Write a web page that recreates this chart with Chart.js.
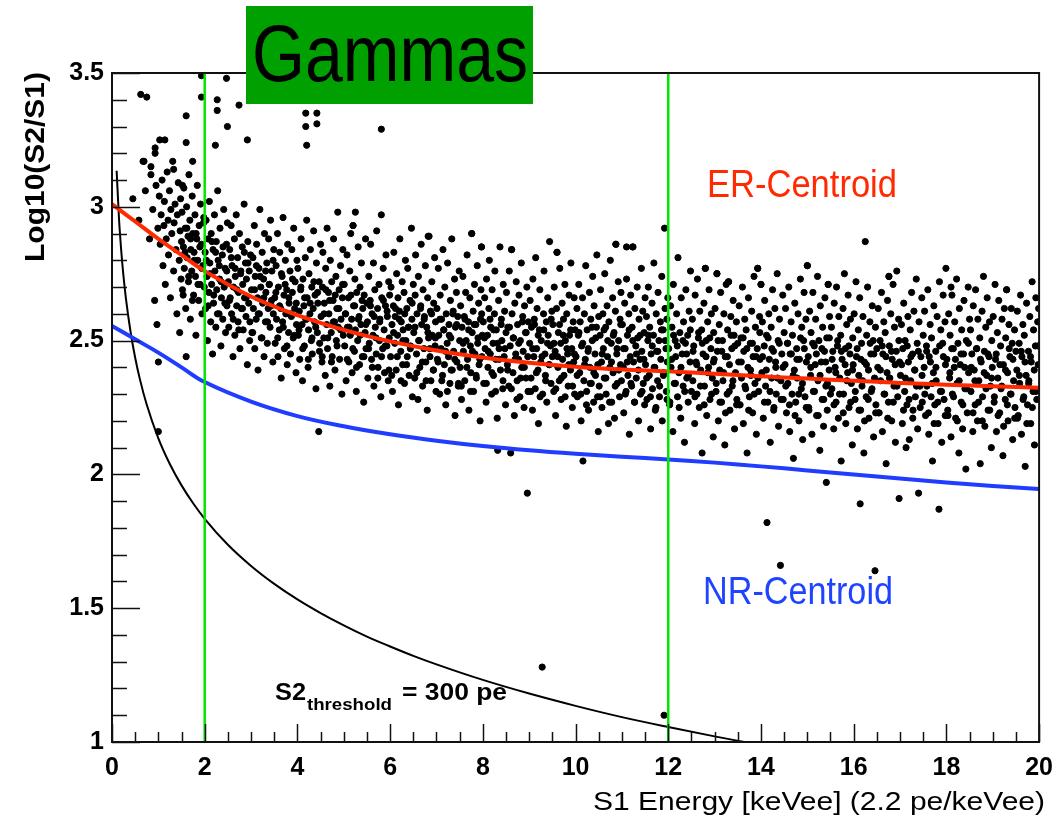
<!DOCTYPE html>
<html>
<head>
<meta charset="utf-8">
<title>Gammas - Log10(S2/S1) vs S1 Energy</title>
<script src="https://cdn.jsdelivr.net/npm/chart.js@4.4.1/dist/chart.umd.min.js"></script>
<style>
  body { margin: 0; background: #fff; }
  #wrap { width: 1064px; height: 825px; position: relative; }
</style>
</head>
<body>
<div id="wrap"><canvas id="gammasChart"></canvas></div>
<script>
// Ejes
const xTickValues = [0, 2, 4, 6, 8, 10, 12, 14, 16, 18, 20];
const yTickValues = [1, 1.5, 2, 2.5, 3, 3.5];

// Centroides (ER rojo, NR azul)
const curveX = [0, 0.5, 1, 1.5, 2, 3, 4, 5, 6, 7, 8, 9, 10, 11, 12, 13, 14, 15, 16, 17, 18, 19, 20];
const erY = [3.01, 2.945, 2.88, 2.82, 2.76, 2.665, 2.595, 2.54, 2.497, 2.463, 2.437, 2.417, 2.402, 2.392, 2.385, 2.376, 2.367, 2.358, 2.35, 2.342, 2.335, 2.329, 2.324];
const nrY = [2.555, 2.505, 2.455, 2.40, 2.345, 2.272, 2.218, 2.18, 2.15, 2.126, 2.106, 2.09, 2.077, 2.066, 2.056, 2.044, 2.03, 2.015, 2.0, 1.985, 1.97, 1.957, 1.945];

// Umbral S2 = 300 pe
const thrX = [0.1, 0.15, 0.2, 0.25, 0.3, 0.4, 0.5, 0.6, 0.75, 1, 1.25, 1.5, 1.75, 2, 2.5, 3, 3.5, 4, 4.5, 5, 5.5, 6, 6.5, 7, 8, 9, 10, 11, 12, 13, 13.64];
const thrY = [3.135, 2.959, 2.834, 2.737, 2.658, 2.533, 2.436, 2.357, 2.260, 2.135, 2.038, 1.959, 1.892, 1.834, 1.737, 1.658, 1.591, 1.533, 1.482, 1.436, 1.394, 1.357, 1.322, 1.290, 1.232, 1.181, 1.135, 1.093, 1.056, 1.021, 1.0];

// Cortes de energia (lineas verdes)
const cutX = [2, 12];

// Eventos gamma [x, y]
const gammaEvents = [
  [0.45,3.03],[0.58,2.95],[0.67,3.17],[0.72,3.06],[0.81,2.88],[0.84,3.12],[0.88,2.99],[0.92,2.65],[0.95,3.08],[0.97,2.56],[0.99,2.92],[1.0,2.42],
  [1.02,3.04],[1.04,2.86],[1.06,2.97],[1.08,3.1],[1.1,2.78],[1.12,2.93],[1.13,3.02],[1.15,2.71],[1.17,2.88],[1.19,3.13],[1.21,2.95],[1.22,2.82],[1.24,3.06],[1.26,2.66],[1.27,2.99],[1.29,2.9],[1.31,3.17],[1.33,2.76],[1.34,2.94],[1.36,3.01],[1.38,2.84],[1.4,2.6],[1.41,2.97],[1.43,3.09],[1.45,2.8],[1.46,2.53],[1.47,2.91],[1.48,3.03],[1.49,2.73],[1.5,2.87],
  [1.51,2.98],[1.52,2.69],[1.54,2.85],[1.55,3.07],[1.56,2.77],[1.58,2.92],[1.59,2.62],[1.6,2.44],[1.61,3.0],[1.62,2.81],[1.64,2.89],[1.65,2.72],[1.66,3.12],[1.68,2.95],[1.69,2.58],[1.7,2.84],[1.72,2.76],[1.73,3.04],[1.74,2.9],[1.76,2.67],[1.77,2.83],[1.79,2.97],[1.8,2.74],[1.81,2.52],[1.83,2.88],[1.84,3.08],[1.85,2.8],[1.87,2.65],[1.88,2.93],[1.9,2.71],[1.91,3.01],[1.93,2.86],[1.94,2.6],[1.96,2.78],[1.98,2.96],[1.99,2.7],
  [2.01,2.83],[2.02,2.62],[2.03,2.95],[2.05,2.74],[2.06,2.5],[2.07,2.88],[2.09,2.68],[2.1,3.02],[2.11,2.79],[2.13,2.57],[2.14,2.9],[2.15,2.71],[2.17,2.45],[2.18,2.84],[2.19,2.64],[2.21,2.97],[2.22,2.76],[2.24,2.55],[2.25,2.87],[2.26,2.69],[2.28,3.06],[2.29,2.8],[2.31,2.6],[2.32,2.73],[2.33,2.92],[2.35,2.48],[2.36,2.66],[2.38,2.82],[2.39,2.58],[2.41,2.99],[2.42,2.7],[2.44,2.77],[2.45,2.53],[2.47,2.86],[2.48,2.63],[2.49,2.94],
  [2.51,2.72],[2.52,2.55],[2.54,2.84],[2.55,2.66],[2.57,2.93],[2.58,2.6],[2.59,2.78],[2.61,2.44],[2.62,2.7],[2.64,2.88],[2.65,2.52],[2.66,2.74],[2.68,2.97],[2.69,2.63],[2.71,2.81],[2.72,2.57],[2.73,2.68],[2.75,2.9],[2.76,2.47],[2.78,2.76],[2.79,2.62],[2.81,2.85],[2.82,2.71],[2.83,2.54],[2.85,3.01],[2.86,2.66],[2.88,2.79],[2.89,2.59],[2.9,2.73],[2.92,2.41],[2.93,2.87],[2.95,2.64],[2.96,2.76],[2.97,2.5],[2.99,2.82],
  [3.01,2.69],[3.02,2.53],[3.04,2.81],[3.05,2.62],[3.07,2.93],[3.08,2.47],[3.09,2.74],[3.11,2.58],[3.12,2.86],[3.14,2.66],[3.15,2.39],[3.17,2.77],[3.18,2.6],[3.19,2.99],[3.21,2.7],[3.22,2.51],[3.24,2.83],[3.25,2.64],[3.27,2.73],[3.28,2.44],[3.29,2.9],[3.31,2.57],[3.32,2.68],[3.34,2.79],[3.35,2.49],[3.37,2.62],[3.38,2.88],[3.39,2.71],[3.41,2.55],[3.42,2.95],[3.44,2.65],[3.45,2.76],[3.47,2.42],[3.48,2.6],[3.49,2.84],
  [3.51,2.66],[3.52,2.49],[3.54,2.78],[3.55,2.58],[3.57,2.9],[3.58,2.44],[3.59,2.7],[3.61,2.54],[3.62,2.83],[3.64,2.62],[3.65,2.36],[3.67,2.74],[3.68,2.57],[3.69,2.96],[3.71,2.67],[3.72,2.47],[3.74,2.8],[3.75,2.6],[3.77,2.69],[3.78,2.41],[3.79,2.86],[3.81,2.53],[3.82,2.64],[3.84,2.76],[3.85,2.45],[3.87,2.59],[3.88,2.84],[3.89,2.68],[3.91,2.51],[3.92,2.92],[3.94,2.62],[3.95,2.72],[3.97,2.38],[3.98,2.56],[3.99,2.8],
  [4.01,2.77],[4.02,2.52],[4.04,2.61],[4.05,2.43],[4.07,2.69],[4.08,2.88],[4.1,2.56],[4.11,2.35],[4.12,2.73],[4.14,2.63],[4.15,2.48],[4.17,2.81],[4.18,2.58],[4.2,2.95],[4.21,2.66],[4.23,2.4],[4.24,2.54],[4.25,2.75],[4.27,2.6],[4.28,2.84],[4.3,2.5],[4.31,2.7],[4.32,2.45],[4.34,2.62],[4.35,2.91],[4.37,2.57],[4.38,2.67],[4.4,2.32],[4.41,2.79],[4.43,2.53],[4.44,2.64],[4.46,2.16],[4.47,2.72],[4.48,2.49],[4.5,2.86],
  [4.51,2.59],[4.53,2.42],[4.54,2.7],[4.55,2.83],[4.57,2.51],[4.58,2.64],[4.6,2.37],[4.61,2.77],[4.63,2.56],[4.64,2.92],[4.65,2.47],[4.67,2.68],[4.68,2.6],[4.7,2.33],[4.71,2.8],[4.73,2.53],[4.74,2.72],[4.75,2.44],[4.77,2.65],[4.78,2.88],[4.8,2.57],[4.81,2.39],[4.83,2.74],[4.84,2.5],[4.85,2.62],[4.87,2.98],[4.88,2.55],[4.9,2.69],[4.91,2.43],[4.93,2.78],[4.94,2.58],[4.96,2.3],[4.97,2.66],[4.98,2.84],[4.99,2.52],
  [5.01,2.71],[5.02,2.48],[5.04,2.6],[5.05,2.35],[5.07,2.82],[5.08,2.55],[5.1,2.66],[5.11,2.42],[5.13,2.76],[5.14,2.52],[5.15,2.9],[5.17,2.58],[5.18,2.38],[5.2,2.93],[5.21,2.63],[5.23,2.46],[5.24,2.73],[5.25,2.54],[5.27,2.31],[5.28,2.68],[5.3,2.5],[5.31,2.85],[5.33,2.59],[5.34,2.41],[5.35,2.7],[5.37,2.56],[5.38,2.79],[5.4,2.44],[5.41,2.62],[5.43,2.27],[5.44,2.67],[5.46,2.53],[5.47,2.88],[5.48,2.47],[5.5,2.64],
  [5.51,2.57],[5.52,2.36],[5.54,2.74],[5.55,2.49],[5.57,2.65],[5.58,2.86],[5.6,2.43],[5.61,2.6],[5.63,2.52],[5.64,2.79],[5.65,2.33],[5.67,2.69],[5.68,2.55],[5.7,2.45],[5.71,2.91],[5.73,2.62],[5.74,2.4],[5.76,2.71],[5.77,2.5],[5.78,2.58],[5.8,2.29],[5.81,2.97],[5.82,2.66],[5.84,2.47],[5.85,2.77],[5.87,2.54],[5.88,2.38],[5.9,2.63],[5.91,2.82],[5.93,2.48],[5.94,2.59],[5.96,2.35],[5.97,2.72],[5.98,2.51],[5.99,2.67],
  [6.01,2.44],[6.02,2.7],[6.04,2.56],[6.05,2.31],[6.07,2.63],[6.08,2.83],[6.1,2.49],[6.11,2.59],[6.13,2.39],[6.14,2.75],[6.16,2.52],[6.17,2.66],[6.18,2.26],[6.2,2.61],[6.21,2.88],[6.23,2.46],[6.24,2.57],[6.26,2.72],[6.27,2.41],[6.28,2.54],[6.3,2.68],[6.31,2.34],[6.33,2.8],[6.34,2.5],[6.36,2.62],[6.37,2.44],[6.38,2.77],[6.4,2.55],[6.41,2.37],[6.43,2.65],[6.44,2.48],[6.46,2.92],[6.47,2.58],[6.48,2.29],[6.5,2.71],
  [6.51,2.53],[6.53,2.36],[6.54,2.67],[6.55,2.82],[6.57,2.45],[6.58,2.6],[6.6,2.28],[6.61,2.74],[6.63,2.5],[6.64,2.4],[6.66,2.63],[6.67,2.86],[6.68,2.56],[6.7,2.33],[6.71,2.69],[6.73,2.47],[6.74,2.59],[6.76,2.78],[6.77,2.42],[6.79,2.55],[6.8,2.24],[6.81,2.66],[6.83,2.51],[6.84,2.89],[6.86,2.44],[6.87,2.61],[6.88,2.35],[6.9,2.72],[6.91,2.52],[6.93,2.39],[6.94,2.64],[6.96,2.81],[6.97,2.48],[6.98,2.57],[6.99,2.31],
  [7.01,2.62],[7.02,2.43],[7.04,2.77],[7.05,2.52],[7.07,2.3],[7.08,2.67],[7.1,2.47],[7.11,2.58],[7.13,2.37],[7.14,2.84],[7.16,2.54],[7.17,2.41],[7.18,2.7],[7.2,2.26],[7.21,2.6],[7.23,2.49],[7.24,2.79],[7.26,2.44],[7.27,2.56],[7.29,2.34],[7.3,2.65],[7.31,2.51],[7.33,2.88],[7.34,2.39],[7.36,2.61],[7.37,2.46],[7.39,2.73],[7.4,2.22],[7.41,2.55],[7.43,2.68],[7.44,2.42],[7.46,2.59],[7.47,2.33],[7.49,2.76],[7.5,2.5],
  [7.51,2.4],[7.52,2.63],[7.54,2.28],[7.55,2.55],[7.57,2.74],[7.58,2.46],[7.6,2.59],[7.61,2.35],[7.63,2.68],[7.64,2.5],[7.66,2.82],[7.67,2.43],[7.69,2.57],[7.7,2.24],[7.72,2.66],[7.73,2.48],[7.74,2.38],[7.76,2.9],[7.77,2.53],[7.79,2.61],[7.8,2.31],[7.82,2.71],[7.83,2.45],[7.85,2.56],[7.86,2.36],[7.88,2.78],[7.89,2.49],[7.91,2.64],[7.92,2.41],[7.94,2.2],[7.95,2.58],[7.96,2.69],[7.97,2.85],[7.98,2.44],[7.99,2.52],
  [8.01,2.57],[8.02,2.34],[8.04,2.66],[8.05,2.47],[8.07,2.27],[8.08,2.73],[8.1,2.52],[8.11,2.4],[8.13,2.62],[8.14,2.8],[8.16,2.45],[8.17,2.55],[8.19,2.3],[8.2,2.69],[8.22,2.49],[8.23,2.37],[8.25,2.6],[8.26,2.76],[8.28,2.43],[8.29,2.54],[8.31,2.21],[8.32,2.09],[8.34,2.65],[8.35,2.47],[8.37,2.85],[8.38,2.39],[8.4,2.58],[8.41,2.5],[8.43,2.32],[8.44,2.71],[8.46,2.44],[8.47,2.61],[8.49,2.26],[8.5,2.53],
  [8.51,2.68],[8.53,2.41],[8.54,2.55],[8.56,2.33],[8.57,2.76],[8.59,2.48],[8.6,2.08],[8.62,2.84],[8.63,2.6],[8.65,2.38],[8.66,2.51],[8.68,2.22],[8.69,2.64],[8.71,2.45],[8.72,2.72],[8.74,2.35],[8.75,2.56],[8.77,2.43],[8.78,2.67],[8.8,2.29],[8.81,2.5],[8.83,2.79],[8.84,2.4],[8.86,2.59],[8.87,2.46],[8.89,2.25],[8.9,2.63],[8.92,2.53],[8.93,2.36],[8.95,2.7],[8.96,1.93],[8.97,2.44],[8.98,2.57],[8.99,2.31],
  [9.01,2.49],[9.02,2.65],[9.04,2.36],[9.05,2.55],[9.07,2.24],[9.08,2.73],[9.1,2.44],[9.11,2.58],[9.13,2.32],[9.14,2.81],[9.16,2.47],[9.17,2.62],[9.19,2.39],[9.2,2.19],[9.22,2.54],[9.23,2.69],[9.25,2.42],[9.26,2.5],[9.28,1.28],[9.29,2.3],[9.31,2.6],[9.32,2.76],[9.34,2.45],[9.35,2.37],[9.37,2.57],[9.38,2.27],[9.4,2.66],[9.41,2.52],[9.43,2.41],[9.44,2.87],[9.46,2.48],[9.47,2.34],[9.49,2.61],[9.5,2.44],
  [9.51,2.56],[9.53,2.31],[9.54,2.7],[9.56,2.46],[9.57,2.22],[9.59,2.62],[9.6,2.83],[9.62,2.4],[9.63,2.53],[9.65,2.35],[9.66,2.77],[9.68,2.49],[9.69,2.28],[9.71,2.64],[9.72,2.43],[9.74,2.58],[9.75,2.37],[9.77,2.71],[9.78,2.5],[9.8,2.18],[9.81,2.6],[9.83,2.45],[9.84,2.33],[9.86,2.67],[9.87,2.52],[9.89,2.39],[9.9,2.79],[9.92,2.47],[9.93,2.25],[9.95,2.57],[9.96,2.42],[9.97,2.66],[9.98,2.3],[9.99,2.54],
  [10.01,2.44],[10.03,2.62],[10.04,2.29],[10.06,2.52],[10.07,2.71],[10.09,2.38],[10.1,2.57],[10.12,2.2],[10.13,2.48],[10.15,2.66],[10.16,2.05],[10.18,2.35],[10.19,2.6],[10.21,2.43],[10.22,2.78],[10.24,2.31],[10.25,2.54],[10.27,2.46],[10.28,2.24],[10.3,2.68],[10.31,2.4],[10.33,2.58],[10.34,2.34],[10.36,2.5],[10.37,2.74],[10.39,2.27],[10.4,2.63],[10.42,2.45],[10.43,2.37],[10.45,2.55],[10.46,2.82],[10.48,2.41],[10.49,2.16],[10.5,2.59],
  [10.51,2.33],[10.53,2.52],[10.54,2.69],[10.56,2.42],[10.57,2.25],[10.59,2.6],[10.6,2.47],[10.62,2.36],[10.63,2.75],[10.65,2.55],[10.66,2.3],[10.68,2.63],[10.69,2.44],[10.71,2.19],[10.72,2.57],[10.74,2.4],[10.75,2.8],[10.77,2.49],[10.78,2.27],[10.8,2.66],[10.81,2.38],[10.83,2.53],[10.84,2.21],[10.86,2.61],[10.87,2.86],[10.89,2.45],[10.9,2.34],[10.92,2.72],[10.93,2.5],[10.95,2.29],[10.96,2.58],[10.97,2.41],[10.98,2.68],[10.99,2.35],
  [11.01,2.56],[11.03,2.4],[11.04,2.23],[11.06,2.64],[11.07,2.47],[11.09,2.31],[11.1,2.73],[11.12,2.52],[11.13,2.37],[11.15,2.6],[11.16,2.15],[11.18,2.44],[11.19,2.67],[11.21,2.33],[11.22,2.55],[11.24,2.85],[11.25,2.42],[11.27,2.27],[11.28,2.62],[11.3,2.48],[11.31,2.36],[11.33,2.7],[11.34,2.51],[11.36,2.2],[11.37,2.58],[11.39,2.43],[11.4,2.3],[11.42,2.77],[11.43,2.46],[11.45,2.61],[11.46,2.34],[11.48,2.53],[11.49,2.26],[11.5,2.66],
  [11.51,2.41],[11.53,2.59],[11.54,2.28],[11.56,2.5],[11.57,2.7],[11.59,2.37],[11.6,2.55],[11.62,2.17],[11.63,2.45],[11.65,2.64],[11.66,2.32],[11.68,2.52],[11.69,2.79],[11.71,2.4],[11.72,2.24],[11.74,2.6],[11.75,2.46],[11.77,2.35],[11.78,2.68],[11.8,2.5],[11.81,2.29],[11.83,2.57],[11.84,2.43],[11.86,2.74],[11.87,2.2],[11.89,2.54],[11.9,2.38],[11.91,1.1],[11.92,2.92],[11.93,2.62],[11.95,2.47],[11.96,2.31],[11.97,2.58],[11.98,2.42],[11.99,2.66],
  [12.01,2.47],[12.03,2.26],[12.05,2.63],[12.06,2.4],[12.08,2.55],[12.1,2.16],[12.11,2.71],[12.13,2.34],[12.15,2.5],[12.16,2.44],[12.18,2.6],[12.2,2.29],[12.21,2.81],[12.23,2.38],[12.25,2.53],[12.27,2.21],[12.28,2.66],[12.3,2.45],[12.32,2.33],[12.33,2.57],[12.35,2.12],[12.37,2.49],[12.38,2.69],[12.4,2.36],[12.42,2.52],[12.43,2.27],[12.45,2.61],[12.47,2.42],[12.48,2.76],[12.5,2.31],
  [12.52,2.58],[12.53,2.35],[12.55,2.48],[12.57,2.19],[12.58,2.67],[12.6,2.42],[12.62,2.3],[12.63,2.73],[12.65,2.51],[12.67,2.25],[12.68,2.61],[12.7,2.39],[12.72,2.54],[12.73,2.08],[12.75,2.45],[12.77,2.64],[12.78,2.33],[12.8,2.77],[12.82,2.5],[12.83,2.22],[12.85,2.57],[12.87,2.4],[12.88,2.69],[12.9,2.28],[12.92,2.47],[12.93,2.6],[12.95,2.36],[12.97,2.14],[12.98,2.53],[12.99,2.43],
  [13.01,2.62],[13.03,2.31],[13.05,2.75],[13.06,2.46],[13.08,2.2],[13.1,2.56],[13.11,2.39],[13.13,2.68],[13.15,2.27],[13.17,2.5],[13.18,2.35],[13.2,2.6],[13.22,2.11],[13.23,2.44],[13.25,2.71],[13.27,2.3],[13.28,2.54],[13.3,2.72],[13.32,2.41],[13.33,2.24],[13.35,2.59],[13.37,2.47],[13.38,2.33],[13.4,2.65],[13.42,2.52],[13.43,2.17],[13.45,2.38],[13.47,2.57],[13.48,2.28],[13.5,2.49],
  [13.52,2.42],[13.53,2.63],[13.55,2.26],[13.57,2.51],[13.58,2.36],[13.6,2.7],[13.62,2.19],[13.63,2.46],[13.65,2.58],[13.67,2.32],[13.68,2.54],[13.7,2.08],[13.72,2.4],[13.73,2.66],[13.75,2.29],[13.77,2.49],[13.78,2.37],[13.8,2.61],[13.82,2.23],[13.83,2.44],[13.85,2.74],[13.87,2.34],[13.88,2.55],[13.9,2.15],[13.92,2.47],[13.93,2.77],[13.95,2.31],[13.97,2.59],[13.98,2.43],[14.0,2.71],
  [14.02,2.38],[14.03,2.57],[14.05,2.21],[14.07,2.48],[14.08,2.65],[14.1,2.33],[14.12,2.52],[14.13,1.82],[14.15,2.27],[14.17,2.6],[14.18,2.43],[14.2,2.12],[14.22,2.55],[14.23,2.36],[14.25,2.69],[14.27,2.46],[14.28,2.25],[14.3,2.62],[14.32,2.4],[14.33,2.3],[14.35,2.75],[14.37,2.5],[14.38,2.18],[14.4,2.58],[14.42,1.66],[14.43,2.35],[14.45,2.45],[14.47,2.67],[14.48,2.28],[14.5,2.53],
  [14.52,2.41],[14.53,2.62],[14.55,2.23],[14.57,2.49],[14.58,2.34],[14.6,2.7],[14.62,2.16],[14.63,2.45],[14.65,2.57],[14.67,2.3],[14.68,2.52],[14.7,2.06],[14.72,2.39],[14.73,2.64],[14.75,2.27],[14.77,2.47],[14.78,2.36],[14.8,2.6],[14.82,2.2],[14.83,2.43],[14.85,2.73],[14.87,2.32],[14.88,2.55],[14.9,2.13],[14.92,2.5],[14.93,2.68],[14.95,2.29],[14.97,2.58],[14.98,2.42],[15.0,2.78],
  [15.02,2.44],[15.03,2.25],[15.05,2.61],[15.07,2.37],[15.08,2.53],[15.1,2.15],[15.12,2.68],[15.13,2.31],[15.15,2.48],[15.17,2.41],[15.18,2.58],[15.2,2.22],[15.22,2.74],[15.23,2.35],[15.25,2.5],[15.27,2.09],[15.28,2.63],[15.3,2.42],[15.32,2.28],[15.33,2.55],[15.35,2.18],[15.37,2.46],[15.38,2.66],[15.4,2.33],[15.41,1.97],[15.42,2.51],[15.43,2.24],[15.45,2.71],[15.47,2.39],[15.48,2.59],[15.5,2.3],
  [15.52,2.55],[15.53,2.32],[15.55,2.46],[15.57,2.17],[15.58,2.64],[15.6,2.4],[15.62,2.27],[15.63,2.7],[15.65,2.48],[15.67,2.21],[15.68,2.59],[15.7,2.36],[15.72,2.52],[15.73,2.05],[15.75,2.43],[15.77,2.62],[15.78,2.3],[15.8,2.75],[15.82,2.47],[15.83,2.19],[15.85,2.56],[15.87,2.38],[15.88,2.67],[15.9,2.25],[15.92,2.45],[15.93,2.58],[15.95,2.34],[15.97,2.11],[15.98,2.51],[15.99,2.41],
  [16.01,2.6],[16.03,2.28],[16.05,2.72],[16.06,2.44],[16.08,2.17],[16.1,2.54],[16.11,2.37],[16.13,2.66],[16.14,1.89],[16.15,2.24],[16.17,2.49],[16.18,2.33],[16.2,2.59],[16.22,2.08],[16.23,2.42],[16.25,2.87],[16.27,2.29],[16.28,2.52],[16.3,2.7],[16.32,2.39],[16.33,2.21],[16.35,2.57],[16.37,2.45],[16.38,2.31],[16.4,2.63],[16.42,2.5],[16.43,2.14],[16.45,2.36],[16.46,1.64],[16.47,2.55],[16.48,2.26],[16.5,2.47],
  [16.52,2.4],[16.53,2.62],[16.55,2.23],[16.57,2.5],[16.58,2.35],[16.6,2.68],[16.62,2.16],[16.63,2.45],[16.65,2.57],[16.67,2.3],[16.68,2.53],[16.7,2.04],[16.72,2.38],[16.73,2.65],[16.75,2.27],[16.76,2.74],[16.77,2.48],[16.78,2.36],[16.8,2.6],[16.82,2.2],[16.83,2.43],[16.85,2.71],[16.87,2.33],[16.88,2.55],[16.9,2.12],[16.92,2.46],[16.93,2.76],[16.95,2.29],[16.97,2.58],[16.98,1.91],[16.99,2.42],
  [17.01,2.37],[17.03,2.56],[17.05,2.19],[17.06,2.47],[17.08,2.64],[17.1,2.31],[17.11,2.5],[17.13,2.1],[17.15,2.26],[17.17,2.59],[17.18,2.42],[17.2,2.13],[17.22,2.54],[17.23,2.35],[17.25,2.68],[17.27,2.45],[17.28,2.24],[17.3,2.61],[17.32,2.39],[17.33,2.29],[17.35,2.73],[17.37,2.49],[17.38,2.17],[17.4,1.93],[17.41,2.57],[17.43,2.33],[17.45,2.44],[17.47,2.66],[17.48,2.27],[17.5,2.52],
  [17.52,2.4],[17.53,2.61],[17.55,2.22],[17.57,2.48],[17.58,2.33],[17.6,2.69],[17.62,2.15],[17.63,2.44],[17.65,2.56],[17.67,2.29],[17.68,2.51],[17.7,2.05],[17.72,2.38],[17.73,2.63],[17.75,2.26],[17.77,2.46],[17.78,2.35],[17.8,2.59],[17.82,2.19],[17.84,1.87],[17.85,2.72],[17.87,2.31],[17.88,2.54],[17.9,2.12],[17.92,2.49],[17.93,2.67],[17.95,2.28],[17.97,2.57],[17.98,2.41],[17.99,2.77],
  [18.01,2.43],[18.03,2.24],[18.05,2.6],[18.07,2.36],[18.08,2.52],[18.1,2.14],[18.12,2.67],[18.13,2.3],[18.15,2.47],[18.17,2.4],[18.18,2.57],[18.2,2.21],[18.22,2.73],[18.23,2.34],[18.25,2.49],[18.27,2.08],[18.28,2.62],[18.3,2.41],[18.32,2.27],[18.33,2.54],[18.35,2.17],[18.37,2.45],[18.38,2.65],[18.4,2.32],[18.42,2.02],[18.43,2.5],[18.45,2.23],[18.47,2.7],[18.48,2.38],[18.5,2.58],
  [18.52,2.54],[18.53,2.31],[18.55,2.45],[18.57,2.16],[18.58,2.63],[18.6,2.39],[18.62,2.26],[18.63,2.69],[18.65,2.47],[18.67,2.2],[18.68,2.58],[18.7,2.35],[18.72,2.51],[18.73,2.04],[18.75,2.42],[18.77,2.61],[18.78,2.29],[18.8,2.74],[18.82,2.46],[18.83,2.18],[18.85,2.55],[18.87,2.37],[18.88,2.66],[18.9,2.24],[18.92,2.44],[18.93,2.57],[18.95,2.33],[18.97,2.1],[18.98,2.5],[18.99,2.4],
  [19.01,2.59],[19.03,2.27],[19.05,2.71],[19.06,2.43],[19.08,2.16],[19.1,2.53],[19.11,2.36],[19.13,2.65],[19.15,2.23],[19.17,2.48],[19.18,2.32],[19.2,2.58],[19.22,2.07],[19.23,2.41],[19.25,2.62],[19.27,2.28],[19.28,2.51],[19.3,2.69],[19.32,2.38],[19.33,2.2],[19.35,2.56],[19.37,2.44],[19.38,2.3],[19.4,2.62],[19.42,2.49],[19.43,2.13],[19.45,2.35],[19.47,2.54],[19.48,2.25],[19.5,2.46],
  [19.52,2.39],[19.53,2.61],[19.55,2.22],[19.57,2.49],[19.58,2.34],[19.6,2.67],[19.62,2.15],[19.63,2.44],[19.65,2.56],[19.67,2.29],[19.68,2.52],[19.7,2.03],[19.72,2.37],[19.73,2.64],[19.75,2.26],[19.77,2.46],[19.78,2.35],[19.8,2.59],[19.82,2.19],[19.83,2.42],[19.85,2.72],[19.87,2.31],[19.88,2.54],[19.9,2.11],[19.92,2.48],[19.93,2.66],[19.95,2.28],[19.97,2.57],[19.98,2.41],[19.99,2.62]
];

// Nucleo denso de la banda (cerca del centroide ER)
const gammaCore = [
  [1.535,2.67],[1.575,2.83],[1.615,2.92],[1.655,2.74],[1.695,2.88],[1.735,2.65],[1.775,2.80],[1.815,2.90],[1.855,2.71],[1.895,2.85],[1.935,2.77],[1.975,2.94],
  [2.035,2.80],[2.075,2.63],[2.115,2.75],[2.155,2.87],[2.195,2.67],[2.235,2.83],[2.275,2.60],[2.315,2.78],[2.355,2.72],[2.395,2.85],[2.435,2.64],[2.475,2.76],
  [2.535,2.65],[2.575,2.81],[2.615,2.58],[2.655,2.77],[2.695,2.69],[2.735,2.54],[2.775,2.75],[2.815,2.62],[2.855,2.83],[2.895,2.66],[2.935,2.79],[2.975,2.57],
  [3.035,2.53],[3.075,2.69],[3.115,2.78],[3.155,2.60],[3.195,2.74],[3.235,2.51],[3.275,2.66],[3.315,2.76],[3.355,2.57],[3.395,2.71],[3.435,2.63],[3.475,2.80],
  [3.535,2.68],[3.575,2.51],[3.615,2.63],[3.655,2.75],[3.695,2.55],[3.735,2.71],[3.775,2.48],[3.815,2.66],[3.855,2.60],[3.895,2.73],[3.935,2.52],[3.975,2.64],
  [4.035,2.54],[4.075,2.70],[4.115,2.47],[4.155,2.66],[4.195,2.58],[4.235,2.43],[4.275,2.64],[4.315,2.51],[4.355,2.72],[4.395,2.55],[4.435,2.68],[4.475,2.46],
  [4.535,2.44],[4.575,2.60],[4.615,2.69],[4.655,2.51],[4.695,2.65],[4.735,2.42],[4.775,2.57],[4.815,2.67],[4.855,2.48],[4.895,2.62],[4.935,2.54],[4.975,2.71],
  [5.035,2.60],[5.075,2.43],[5.115,2.55],[5.155,2.67],[5.195,2.47],[5.235,2.63],[5.275,2.40],[5.315,2.58],[5.355,2.52],[5.395,2.65],[5.435,2.44],[5.475,2.56],
  [5.535,2.47],[5.575,2.63],[5.615,2.40],[5.655,2.59],[5.695,2.51],[5.735,2.36],[5.775,2.57],[5.815,2.44],[5.855,2.65],[5.895,2.48],[5.935,2.61],[5.975,2.39],
  [6.035,2.37],[6.075,2.53],[6.115,2.62],[6.155,2.44],[6.195,2.58],[6.235,2.35],[6.275,2.50],[6.315,2.60],[6.355,2.41],[6.395,2.55],[6.435,2.47],[6.475,2.64],
  [6.535,2.55],[6.575,2.38],[6.615,2.50],[6.655,2.62],[6.695,2.42],[6.735,2.58],[6.775,2.35],[6.815,2.53],[6.855,2.47],[6.895,2.60],[6.935,2.39],[6.975,2.51],
  [7.035,2.42],[7.075,2.58],[7.115,2.35],[7.155,2.54],[7.195,2.46],[7.235,2.31],[7.275,2.52],[7.315,2.39],[7.355,2.60],[7.395,2.43],[7.435,2.56],[7.475,2.34],
  [7.535,2.33],[7.575,2.49],[7.615,2.58],[7.655,2.40],[7.695,2.54],[7.735,2.31],[7.775,2.46],[7.815,2.56],[7.855,2.37],[7.895,2.51],[7.935,2.43],[7.975,2.60],
  [8.035,2.51],[8.075,2.34],[8.115,2.46],[8.155,2.58],[8.195,2.38],[8.235,2.54],[8.275,2.31],[8.315,2.49],[8.355,2.43],[8.395,2.56],[8.435,2.35],[8.475,2.47],
  [8.535,2.39],[8.575,2.55],[8.615,2.32],[8.655,2.51],[8.695,2.43],[8.735,2.28],[8.775,2.49],[8.815,2.36],[8.855,2.57],[8.895,2.40],[8.935,2.53],[8.975,2.31],
  [9.035,2.31],[9.075,2.47],[9.115,2.56],[9.155,2.38],[9.195,2.52],[9.235,2.29],[9.275,2.44],[9.315,2.54],[9.355,2.35],[9.395,2.49],[9.435,2.41],[9.475,2.58],
  [9.535,2.49],[9.575,2.32],[9.615,2.44],[9.655,2.56],[9.695,2.36],[9.735,2.52],[9.775,2.29],[9.815,2.47],[9.855,2.41],[9.895,2.54],[9.935,2.33],[9.975,2.45],
  [10.035,2.37],[10.075,2.53],[10.115,2.30],[10.155,2.49],[10.195,2.41],[10.235,2.26],[10.275,2.47],[10.315,2.34],[10.355,2.55],[10.395,2.38],[10.435,2.51],[10.475,2.29],
  [10.535,2.29],[10.575,2.45],[10.615,2.54],[10.655,2.36],[10.695,2.50],[10.735,2.27],[10.775,2.42],[10.815,2.52],[10.855,2.33],[10.895,2.47],[10.935,2.39],[10.975,2.56],
  [11.035,2.47],[11.075,2.30],[11.115,2.42],[11.155,2.54],[11.195,2.34],[11.235,2.50],[11.275,2.27],[11.315,2.45],[11.355,2.39],[11.395,2.52],[11.435,2.31],[11.475,2.43],
  [11.535,2.36],[11.575,2.52],[11.615,2.29],[11.655,2.48],[11.695,2.40],[11.735,2.25],[11.775,2.46],[11.815,2.33],[11.855,2.54],[11.895,2.37],[11.935,2.50],[11.975,2.28],
  [12.035,2.27],[12.075,2.43],[12.115,2.52],[12.155,2.34],[12.195,2.48],[12.235,2.25],[12.275,2.40],[12.315,2.50],[12.355,2.31],[12.395,2.45],[12.435,2.37],[12.475,2.54],
  [12.535,2.46],[12.575,2.29],[12.615,2.41],[12.655,2.53],[12.695,2.33],[12.735,2.49],[12.775,2.26],[12.815,2.44],[12.855,2.38],[12.895,2.51],[12.935,2.30],[12.975,2.42],
  [13.035,2.34],[13.075,2.50],[13.115,2.27],[13.155,2.46],[13.195,2.38],[13.235,2.23],[13.275,2.44],[13.315,2.31],[13.355,2.52],[13.395,2.35],[13.435,2.48],[13.475,2.26],
  [13.535,2.26],[13.575,2.42],[13.615,2.51],[13.655,2.33],[13.695,2.47],[13.735,2.24],[13.775,2.39],[13.815,2.49],[13.855,2.30],[13.895,2.44],[13.935,2.36],[13.975,2.53],
  [14.035,2.44],[14.075,2.27],[14.115,2.39],[14.155,2.51],[14.195,2.31],[14.235,2.47],[14.275,2.24],[14.315,2.42],[14.355,2.36],[14.395,2.49],[14.435,2.28],[14.475,2.40],
  [14.535,2.33],[14.575,2.49],[14.615,2.26],[14.655,2.45],[14.695,2.37],[14.735,2.22],[14.775,2.43],[14.815,2.30],[14.855,2.51],[14.895,2.34],[14.935,2.47],[14.975,2.25],
  [15.035,2.24],[15.075,2.40],[15.115,2.49],[15.155,2.31],[15.195,2.45],[15.235,2.22],[15.275,2.37],[15.315,2.47],[15.355,2.28],[15.395,2.42],[15.435,2.34],[15.475,2.51],
  [15.535,2.43],[15.575,2.26],[15.615,2.38],[15.655,2.50],[15.695,2.30],[15.735,2.46],[15.775,2.23],[15.815,2.41],[15.855,2.35],[15.895,2.48],[15.935,2.27],[15.975,2.39],
  [16.035,2.31],[16.075,2.47],[16.115,2.24],[16.155,2.43],[16.195,2.35],[16.235,2.20],[16.275,2.41],[16.315,2.28],[16.355,2.49],[16.395,2.32],[16.435,2.45],[16.475,2.23],
  [16.535,2.23],[16.575,2.39],[16.615,2.48],[16.655,2.30],[16.695,2.44],[16.735,2.21],[16.775,2.36],[16.815,2.46],[16.855,2.27],[16.895,2.41],[16.935,2.33],[16.975,2.50],
  [17.035,2.41],[17.075,2.24],[17.115,2.36],[17.155,2.48],[17.195,2.28],[17.235,2.44],[17.275,2.21],[17.315,2.39],[17.355,2.33],[17.395,2.46],[17.435,2.25],[17.475,2.37],
  [17.535,2.30],[17.575,2.46],[17.615,2.23],[17.655,2.42],[17.695,2.34],[17.735,2.19],[17.775,2.40],[17.815,2.27],[17.855,2.48],[17.895,2.31],[17.935,2.44],[17.975,2.22],
  [18.035,2.22],[18.075,2.38],[18.115,2.47],[18.155,2.29],[18.195,2.43],[18.235,2.20],[18.275,2.35],[18.315,2.45],[18.355,2.26],[18.395,2.40],[18.435,2.32],[18.475,2.49],
  [18.535,2.40],[18.575,2.23],[18.615,2.35],[18.655,2.47],[18.695,2.27],[18.735,2.43],[18.775,2.20],[18.815,2.38],[18.855,2.32],[18.895,2.45],[18.935,2.24],[18.975,2.36],
  [19.035,2.29],[19.075,2.45],[19.115,2.22],[19.155,2.41],[19.195,2.33],[19.235,2.18],[19.275,2.39],[19.315,2.26],[19.355,2.47],[19.395,2.30],[19.435,2.43],[19.475,2.21],
  [19.535,2.21],[19.575,2.37],[19.615,2.46],[19.655,2.28],[19.695,2.42],[19.735,2.19],[19.775,2.34],[19.815,2.44],[19.855,2.25],[19.895,2.39],[19.935,2.31],[19.975,2.48]
];

// Eventos aislados (arriba y abajo de la banda)
const gammaOutliers = [
  [1.93,3.49],[0.62,3.42],[0.75,3.41],[1.93,3.41],[2.47,3.48],[2.27,3.4],[2.27,3.36],[2.74,3.38],[2.49,3.3],[1.6,3.34],
  [1.6,3.24],[1.03,3.25],[1.14,3.25],[0.93,3.22],[0.93,3.2],[2.23,3.23],[2.92,3.25],[1.74,3.17],[0.69,3.17],[0.84,3.15],
  [1.33,3.14],[1.52,3.08],[4.18,3.35],[4.42,3.35],[4.42,3.31],[4.18,3.3],[4.2,3.23],[5.81,3.29],[5.25,2.98],[5.2,2.93],
  [7.76,2.9],[6.82,2.89],[8.62,2.84],[7.97,2.85],[9.6,2.83],[10.87,2.86],[11.23,2.85],[11.1,2.85],[12.8,2.77],[13.05,2.75],
  [13.93,2.77],[15.0,2.78],[16.76,2.74],[19.3,2.69],[13.3,2.72],[14.0,2.71],[15.45,2.71],[18.1,2.7],[1.0,2.16]
];

const toPoints = (xs, ys) => xs.map((x, i) => ({ x: x, y: ys[i] }));
const toXY = pairs => pairs.map(p => ({ x: p[0], y: p[1] }));

const X_MIN = 0, X_MAX = 20, Y_MIN = 1, Y_MAX = 3.5;
const FONT = "'Liberation Sans', Arial, Helvetica, sans-serif";

// Texto estirado horizontalmente a un ancho dado
function stretchText(ctx, text, x, y, font, color, width, angle) {
    ctx.save();
    ctx.font = font;
    ctx.fillStyle = color;
    ctx.textAlign = 'left';
    ctx.textBaseline = 'alphabetic';
    const w = ctx.measureText(text).width;
    ctx.translate(x, y);
    if (angle) ctx.rotate(angle);
    ctx.scale(width / w, 1);
    ctx.fillText(text, 0, 0);
    ctx.restore();
}

// Marco, ticks internos (estilo ROOT) y anotaciones
const rootStyle = {
    id: 'rootStyle',
    afterDraw(chart) {
        const ctx = chart.ctx;
        const a = chart.chartArea;
        const xs = chart.scales.x, ys = chart.scales.y;

        ctx.save();
        ctx.strokeStyle = '#111';
        ctx.lineWidth = 1.5;
        ctx.beginPath();
        // ticks y
        for (let k = 0; k <= 25; k++) {
            const v = Y_MIN + k * 0.1;
            const py = Math.round(ys.getPixelForValue(v)) + 0.5;
            const len = (k % 5 === 0) ? 28 : 15;
            ctx.moveTo(a.left, py);
            ctx.lineTo(a.left + len, py);
        }
        // ticks x
        for (let k = 0; k <= 40; k++) {
            const v = X_MIN + k * 0.5;
            const px = Math.round(xs.getPixelForValue(v)) + 0.5;
            const len = (k % 4 === 0) ? 18 : 10;
            ctx.moveTo(px, a.bottom);
            ctx.lineTo(px, a.bottom - len);
        }
        ctx.stroke();
        ctx.lineWidth = 2;
        ctx.strokeRect(a.left, a.top, a.right - a.left, a.bottom - a.top);
        ctx.restore();

        // Etiqueta "Gammas"
        ctx.save();
        ctx.fillStyle = '#00a000';
        ctx.fillRect(246, 6, 287, 98);
        ctx.restore();
        stretchText(ctx, 'Gammas', 252, 81, '80px ' + FONT, '#000', 276);

        stretchText(ctx, 'ER-Centroid', 707, 197, '39px ' + FONT, '#ff2a00', 190);
        stretchText(ctx, 'NR-Centroid', 703, 604, '39px ' + FONT, '#1f44ff', 190);

        stretchText(ctx, 'S2', 275, 700, 'bold 24px ' + FONT, '#000', 31);
        stretchText(ctx, 'threshold', 307, 710, 'bold 17px ' + FONT, '#000', 85);
        stretchText(ctx, '= 300 pe', 402, 700, 'bold 24px ' + FONT, '#000', 105);

        // Titulos de ejes
        stretchText(ctx, 'S1 Energy [keVee] (2.2 pe/keVee)', 593, 810, '25px ' + FONT, '#000', 452);
        stretchText(ctx, 'Log10(S2/S1)', 44, 262, 'bold 28px ' + FONT, '#000', 190, -Math.PI / 2);
    }
};

new Chart(document.getElementById('gammasChart'), {
    type: 'scatter',
    data: {
        datasets: [
            {
                label: 'Cortes',
                data: [{ x: cutX[0], y: Y_MIN }, { x: cutX[0], y: Y_MAX }],
                showLine: true, pointRadius: 0, borderColor: '#00e600', borderWidth: 2.5, order: 0
            },
            {
                label: 'Cortes 2',
                data: [{ x: cutX[1], y: Y_MIN }, { x: cutX[1], y: Y_MAX }],
                showLine: true, pointRadius: 0, borderColor: '#00e600', borderWidth: 2.5, order: 0
            },
            {
                label: 'ER-Centroid',
                data: toPoints(curveX, erY),
                showLine: true, pointRadius: 0, borderColor: '#ff2a00', borderWidth: 4,
                tension: 0.4, order: 1
            },
            {
                label: 'NR-Centroid',
                data: toPoints(curveX, nrY),
                showLine: true, pointRadius: 0, borderColor: '#1f3cff', borderWidth: 4,
                tension: 0.4, order: 1
            },
            {
                label: 'S2 threshold',
                data: toPoints(thrX, thrY),
                showLine: true, pointRadius: 0, borderColor: '#000', borderWidth: 2,
                cubicInterpolationMode: 'monotone', order: 1
            },
            {
                label: 'Gammas',
                data: toXY(gammaEvents.concat(gammaCore, gammaOutliers)),
                pointStyle: 'circle', pointRadius: 3.1, borderWidth: 1,
                backgroundColor: '#000', borderColor: '#000', order: 2
            }
        ]
    },
    options: {
        responsive: true,
        maintainAspectRatio: false,
        animation: false,
        events: [],
        layout: { padding: { left: 0, top: 73, right: 19, bottom: 0 } },
        plugins: { legend: { display: false }, tooltip: { enabled: false } },
        scales: {
            x: {
                type: 'linear', min: X_MIN, max: X_MAX,
                grid: { display: false, drawTicks: false },
                border: { display: false },
                afterBuildTicks: s => { s.ticks = xTickValues.map(v => ({ value: v })); },
                afterFit: s => { s.height = 83; },
                ticks: { color: '#000', padding: 11, maxRotation: 0, autoSkip: false,
                         callback: v => String(v),
                         font: { family: FONT, size: 25, weight: 'bold' } }
            },
            y: {
                type: 'linear', min: Y_MIN, max: Y_MAX,
                grid: { display: false, drawTicks: false },
                border: { display: false },
                afterBuildTicks: s => { s.ticks = yTickValues.map(v => ({ value: v })); },
                afterFit: s => { s.width = 112; },
                ticks: { color: '#000', padding: 8, autoSkip: false,
                         callback: v => String(v),
                         font: { family: FONT, size: 25, weight: 'bold' } }
            }
        }
    },
    plugins: [rootStyle]
});
</script>
</body>
</html>
